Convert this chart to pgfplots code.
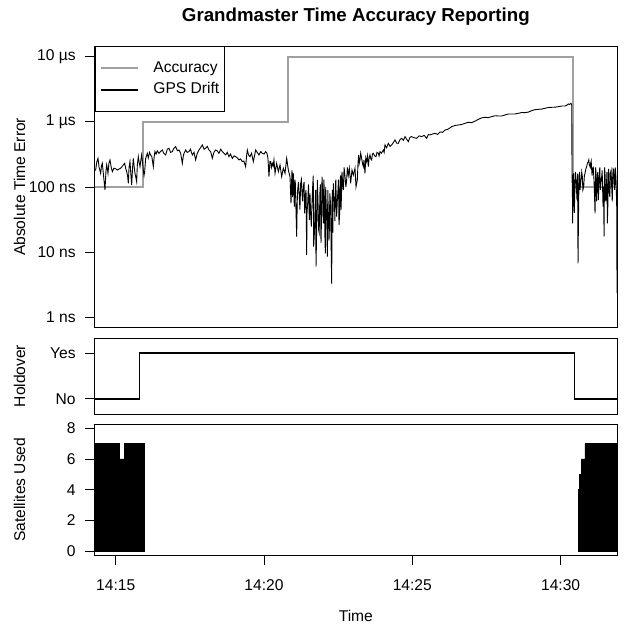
\documentclass[border=0pt]{standalone}
\usepackage{fontspec}
\setmainfont{Liberation Sans}
\usepackage{pgfplots}
\pgfplotsset{compat=1.18}
\definecolor{accgray}{HTML}{A0A0A0}
\newcommand\fs{\fontsize{15.6pt}{18pt}\selectfont}
\pgfplotsset{
  gm/.style={
    scale only axis, width=522.3pt,
    xmin=14.292, xmax=31.90,
    axis line style={line width=0.9pt},
    tick align=outside,
    major tick length=9.5pt,
    every tick/.style={black, line width=0.9pt},
    ytick pos=left, xtick pos=bottom,
    tick label style={font=\fs},
    yticklabel style={xshift=-6pt},
    label style={font=\fs},
    ylabel style={at={(axis description cs:-0.144,0.5)}, anchor=center},
    clip=true,
  }
}
\begin{document}
\begin{tikzpicture}
\useasboundingbox (0,0) rectangle (625pt,-626pt);
% ---------------- top panel ----------------
\begin{axis}[gm,
  at={(94.7pt,-327.7pt)}, anchor=south west, height=281.7pt,
  ymode=log, ymin=0.692, ymax=14590, yminorticks=false,
  ytick={1,10,100,1000,10000},
  yticklabels={1 ns,10 ns,100 ns,1 µs,10 µs},
  xtick=\empty,
  ylabel={Absolute Time Error},
  title={Grandmaster Time Accuracy Reporting},
  title style={font=\fontsize{18.7pt}{22pt}\selectfont\bfseries, at={(axis description cs:0.5,1)}, anchor=base, yshift=18.2pt},
  legend image code/.code={\draw[#1] (0pt,0pt) -- (37pt,0pt);},
  legend style={at={(axis description cs:0,1)}, anchor=north west, draw=black, line width=0.9pt,
    inner xsep=5.3pt, inner ysep=14.15pt, row sep=6.7pt, column sep=14pt, font=\fs,
    nodes={inner sep=0pt, text height=11.5pt, text depth=3.5pt}},
  legend cell align=left,
]
\addlegendimage{accgray, line width=2pt}
\addlegendentry{Accuracy}
\addlegendimage{black, line width=2pt}
\addlegendentry{GPS Drift\hspace{5.5pt}}
\addplot[forget plot, accgray, line width=2pt, const plot] coordinates {
(14.292,100) (15.931,1000) (20.799,10000) (30.428,100) (31.90,100)};
\addplot[forget plot, black, line width=0.9pt] coordinates {
(14.300,180) (14.324,182) (14.36,240) (14.403,275) (14.44,200) (14.493,162) (14.52,210) (14.549,231)
(14.59,150) (14.639,90) (14.67,170) (14.695,218) (14.72,190) (14.740,162) (14.77,230) (14.807,260)
(14.85,200) (14.886,172) (14.92,185) (14.942,194) (15.00,190) (15.055,182) (15.11,188) (15.167,194)
(15.23,210) (15.302,231) (15.34,190) (15.369,172) (15.40,150) (15.425,114) (15.45,200) (15.481,245)
(15.51,160) (15.538,107) (15.57,200) (15.594,275) (15.62,210) (15.650,162) (15.68,140) (15.706,121)
(15.73,220) (15.762,292) (15.79,240) (15.819,205) (15.85,260) (15.875,310) (15.90,250) (15.931,182)
(15.955,150) (15.976,172) (16.010,275) (16.04,300) (16.066,329) (16.10,280) (16.14,340) (16.178,310)
(16.22,290) (16.268,205) (16.30,300) (16.324,349) (16.36,320) (16.40,360) (16.459,329) (16.51,350)
(16.571,370) (16.62,330) (16.684,310) (16.74,380) (16.796,393) (16.85,340) (16.909,349) (16.96,390)
(17.021,416) (17.08,360) (17.133,370) (17.19,330) (17.246,231) (17.28,300) (17.302,329) (17.36,370)
(17.41,340) (17.470,349) (17.52,380) (17.583,310) (17.64,340) (17.695,260) (17.75,330) (17.807,370)
(17.86,400) (17.920,442) (17.98,380) (18.032,393) (18.09,420) (18.144,370) (18.20,350) (18.257,275)
(18.31,340) (18.369,370) (18.42,360) (18.481,329) (18.54,380) (18.594,349) (18.65,330) (18.706,310)
(18.76,340) (18.819,292) (18.87,320) (18.931,275) (18.99,300) (19.043,292) (19.10,280) (19.156,260)
(19.21,270) (19.268,245) (19.32,250) (19.380,205) (19.41,290) (19.437,370) (19.48,310) (19.526,292)
(19.58,330) (19.639,245) (19.68,300) (19.717,370) (19.77,340) (19.830,310) (19.89,350) (19.942,329)
(20.00,320) (20.054,349) (20.10,330) (20.133,275) (20.167,144) (20.20,245) (20.223,245) (20.25,200)
(20.279,231) (20.31,210) (20.335,260) (20.371,162) (20.427,231) (20.483,172) (20.539,218) (20.595,144)
(20.651,194) (20.708,162) (20.764,275) (20.820,182)
(20.876,144) (20.910,56) (20.93,120) (20.944,182) (20.96,70) (20.989,162) (21.00,100) (21.022,50)
(21.04,130) (21.056,114) (21.08,40) (21.101,17.3) (21.12,60) (21.135,90) (21.16,120) (21.191,71)
(21.21,45) (21.236,114) (21.26,130) (21.281,80) (21.30,60) (21.326,101) (21.35,120) (21.371,39.5)
(21.39,70) (21.416,90) (21.438,9.1) (21.45,40) (21.472,56) (21.50,110) (21.528,31) (21.550,80)
(21.57,40) (21.595,24.6) (21.62,60) (21.640,101) (21.66,150) (21.674,12.2) (21.70,20) (21.719,44)
(21.74,90) (21.753,6.0) (21.78,30) (21.797,128) (21.82,60) (21.842,21.9) (21.86,20) (21.887,90)
(21.90,110) (21.921,13.7) (21.94,35) (21.955,144) (21.98,80) (22.000,27.7) (22.02,130) (22.033,71)
(22.05,20) (22.067,9.6) (22.08,100) (22.101,44) (22.12,25) (22.135,8.5) (22.15,90) (22.168,39.5)
(22.19,15) (22.202,21.9) (22.22,80) (22.247,50) (22.26,15) (22.281,3.3) (22.30,90) (22.314,39.5)
(22.32,20) (22.337,114) (22.35,60) (22.371,71) (22.39,30) (22.404,101) (22.42,130) (22.449,35)
(22.47,60) (22.494,90) (22.51,130) (22.528,26) (22.55,40) (22.562,114) (22.58,150) (22.595,44)
(22.61,70) (22.629,172) (22.65,110) (22.674,90) (22.70,200) (22.730,144) (22.76,100) (22.786,128)
(22.81,200) (22.842,152) (22.876,194)
(22.921,114) (22.966,182) (23.011,152) (23.067,194) (23.101,101) (23.146,128) (23.17,240) (23.191,310)
(23.21,230) (23.236,260) (23.26,330) (23.292,275) (23.32,230) (23.348,205) (23.37,260) (23.404,162)
(23.43,280) (23.460,245) (23.49,300) (23.517,205) (23.545,280) (23.573,310) (23.60,270) (23.629,260)
(23.655,320) (23.685,329) (23.73,300) (23.775,292) (23.81,340) (23.854,329) (23.88,300) (23.910,349)
(23.96,330) (24.022,370) (24.05,340) (24.078,442) (24.13,400) (24.191,468) (24.25,420) (24.303,442)
(24.36,480) (24.416,527) (24.47,470) (24.528,468) (24.58,530) (24.640,559) (24.70,520) (24.753,593)
(24.81,540) (24.865,497) (24.92,580) (24.977,593) (25.06,570) (25.146,559) (25.23,610) (25.314,593)
(25.40,620) (25.483,559) (25.54,640) (25.595,629) (25.68,650) (25.764,667) (25.85,640) (25.933,700)
(26.02,690) (26.101,750) (26.2,770) (26.328,844) (26.44,880) (26.552,895) (26.66,910) (26.777,949)
(26.89,985) (27.002,972) (27.11,1020) (27.227,1094) (27.34,1150) (27.451,1174) (27.56,1160) (27.676,1202)
(27.79,1240) (27.901,1230) (28.01,1230) (28.125,1274) (28.24,1320) (28.350,1321) (28.46,1320) (28.575,1352)
(28.69,1390) (28.800,1384) (28.91,1410) (29.024,1485) (29.14,1540) (29.249,1556) (29.36,1570) (29.474,1614)
(29.59,1660) (29.698,1671) (29.81,1680) (29.923,1710) (30.04,1750) (30.148,1750) (30.21,1800) (30.260,1879)
(30.30,1850) (30.350,1923) (30.373,1815)
(30.384,162) (30.40,60) (30.406,27.7) (30.42,140) (30.440,162) (30.46,40) (30.485,114) (30.50,170)
(30.519,128) (30.53,100) (30.552,63) (30.57,160) (30.586,6.7) (30.60,30) (30.620,144) (30.64,170)
(30.654,90) (30.67,110) (30.687,128) (30.71,170) (30.732,144) (30.75,90) (30.777,101) (30.80,150)
(30.822,162) (30.85,190) (30.878,206) (30.90,230) (30.934,245) (30.95,260) (30.968,218) (31.00,200)
(31.013,231) (31.03,250) (31.047,182) (31.06,150) (31.080,194) (31.10,200) (31.125,128) (31.14,80)
(31.159,39.5) (31.18,200) (31.193,162) (31.21,60) (31.227,101) (31.25,170) (31.272,63) (31.29,110)
(31.305,162) (31.32,200) (31.339,90) (31.36,120) (31.384,144) (31.40,180) (31.429,50) (31.45,100)
(31.463,17.3) (31.48,200) (31.496,162) (31.52,60) (31.541,90) (31.56,170) (31.575,27.7) (31.59,50)
(31.609,162) (31.62,190) (31.642,80) (31.66,70) (31.676,162) (31.70,180) (31.721,101) (31.74,60)
(31.755,144) (31.77,190) (31.788,182) (31.80,120) (31.822,90) (31.84,200) (31.856,162) (31.87,120)
(31.890,50) (31.901,2.34)};
\end{axis}
% ---------------- holdover panel ----------------
\begin{axis}[gm,
  at={(94.7pt,-414pt)}, anchor=south west, height=76pt,
  ymin=-0.33, ymax=1.33,
  ytick={0,1}, yticklabels={No,Yes},
  xtick=\empty,
  ylabel={Holdover},
]
\addplot[black, line width=1.6pt, const plot] coordinates {
(14.292,0) (15.796,1) (30.462,0) (31.90,0)};
\end{axis}
% ---------------- satellites panel ----------------
\begin{axis}[gm,
  at={(94.7pt,-555.3pt)}, anchor=south west, height=131.3pt,
  ymin=-0.28, ymax=8.28,
  ytick={0,2,4,6,8}, yticklabels={0,2,4,6,8},
  xtick={15,20,25,30}, xticklabels={14:15,14:20,14:25,14:30},
  xticklabel style={anchor=base, yshift=-25.9pt},
  ylabel={Satellites Used},
  xlabel={Time},
  xlabel style={at={(axis description cs:0.5,0)}, anchor=base, yshift=-65.7pt},
]
\addplot[fill=black, draw=black, line width=0.5pt] coordinates {
(14.292,0) (14.292,7) (15.122,7) (15.122,6) (15.280,6) (15.280,7) (15.964,7) (15.964,0)} \closedcycle;
\addplot[fill=black, draw=black, line width=0.5pt] coordinates {
(30.60,0) (30.60,4) (30.63,4) (30.63,5) (30.71,5) (30.71,6) (30.82,6) (30.82,7) (31.90,7) (31.90,0)} \closedcycle;
\end{axis}
\end{tikzpicture}
\end{document}
